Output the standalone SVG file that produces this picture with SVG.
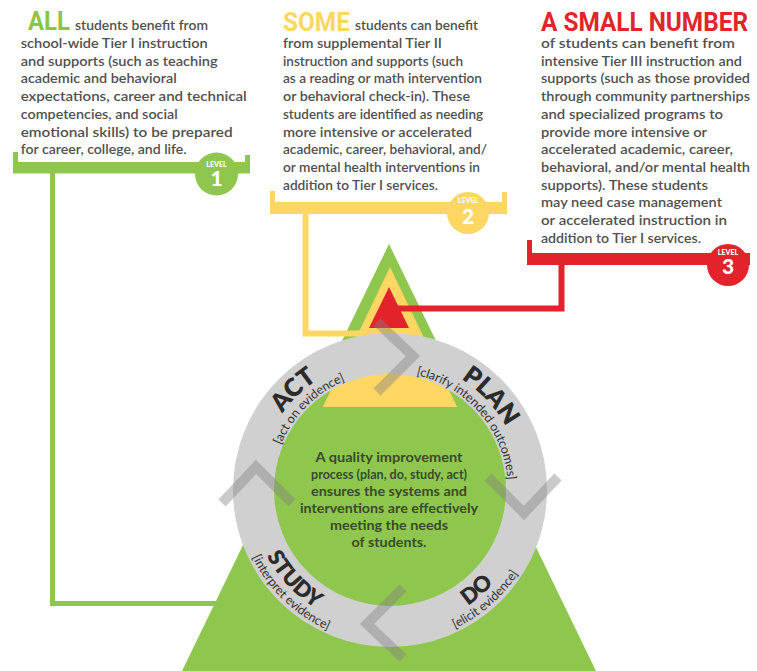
<svg xmlns="http://www.w3.org/2000/svg" width="757" height="671" viewBox="0 0 757 671">
<style>
.body{font-family:Lato,"Noto Sans",sans-serif;font-weight:600;font-size:13.5px;fill:#505050}
.head{font-family:Roboto,"Liberation Sans",sans-serif;font-weight:700;font-size:25px}
.ctr{font-family:Lato,"Noto Sans",sans-serif;font-weight:700;font-size:13.5px;fill:#3a4a2a;text-anchor:middle}
.big{font-family:Lato,"Noto Sans",sans-serif;font-weight:800;fill:#2b2b2b}
.sub{font-family:Lato,"Noto Sans",sans-serif;font-weight:400;font-size:12.5px;fill:#333}
.lvl{font-family:Lato,"Noto Sans",sans-serif;font-weight:900;fill:#fff;text-anchor:middle}
.chev{fill:none;stroke:#808080;stroke-width:10;stroke-opacity:0.42}
</style>
<defs>
<path id="pAct" d="M287.42,573.07 A132,132 0 0 1 476.61,390.38"/>
<path id="pActS" d="M299.6,565.85 A118,118 0 0 1 465.85,399.6"/>
<path id="pPlan" d="M308.73,385.98 A132,132 0 0 1 488.09,578.32"/>
<path id="pPlanS" d="M320.64,394.54 A118,118 0 0 1 474.88,571.97"/>
<path id="pDo" d="M293.4,590 A139,139 0 0 0 502.5,408.3"/>
<path id="pDoS" d="M283.71,600.05 A153,153 0 0 0 513.78,400.07"/>
<path id="pStudy" d="M286,396.3 A140,140 0 0 0 476.2,600.3"/>
<path id="pStudyS" d="M271.1,393.7 A153,153 0 0 0 490.4,605.5"/>
<polyline id="chev" points="377,322 413,356 377,392"/>
</defs>

<g id="pyramid">
<polygon points="389,244 182,671 596,671" fill="#8fc74e"/>
<circle cx="390" cy="490" r="118" fill="#8fc74e"/>
<polygon points="390,267 322.8,407 457.2,407" fill="#fdd663"/>
<polygon points="389,287 369,328 409,328" fill="#e3232b"/>
</g>

<g id="connectors" fill="none" stroke-linejoin="miter">
<polyline points="52.5,173 52.5,603.5 217,603.5" stroke="#8fc74e" stroke-width="5"/>
<polyline points="305.5,214 305.5,333.5 360,333.5" stroke="#fdd663" stroke-width="6"/>
<polyline points="561.5,265 561.5,308.5 398,308.5" stroke="#e3232b" stroke-width="6"/>
</g>

<g id="tier1">
<path d="M13,152 H18 V162 H245 V155 H250 V173.5 H13 Z" fill="#8fc74e"/>
<circle cx="216.5" cy="174" r="21.5" fill="#8fc74e"/>
<text class="lvl" x="216.5" y="166.5" font-size="7">LEVEL</text>
<text class="lvl" x="216.5" y="186" font-size="21">1</text>
<text class="head" x="28" y="30" fill="#8cc63f" textLength="42" lengthAdjust="spacingAndGlyphs" font-size="24">ALL</text>
<text class="body" x="75" y="30" textLength="133" lengthAdjust="spacingAndGlyphs">students benefit from</text>
<text class="body" x="20.7" y="48" textLength="187" lengthAdjust="spacingAndGlyphs">school-wide Tier I instruction</text>
<text class="body" x="20.7" y="65.7" textLength="197" lengthAdjust="spacingAndGlyphs">and supports (such as teaching</text>
<text class="body" x="20.7" y="83.4" textLength="156" lengthAdjust="spacingAndGlyphs">academic and behavioral</text>
<text class="body" x="20.7" y="101.1" textLength="226" lengthAdjust="spacingAndGlyphs">expectations, career and technical</text>
<text class="body" x="20.7" y="118.8" textLength="157" lengthAdjust="spacingAndGlyphs">competencies, and social</text>
<text class="body" x="20.7" y="136.5" textLength="212" lengthAdjust="spacingAndGlyphs">emotional skills) to be prepared</text>
<text class="body" x="20.7" y="154.2" textLength="166" lengthAdjust="spacingAndGlyphs">for career, college, and life.</text>
</g>

<g id="tier2">
<path d="M270,191 H275 V202 H502 V192 H507 V214 H270 Z" fill="#fdd663"/>
<circle cx="468" cy="213" r="21" fill="#fdd663"/>
<text class="lvl" x="468" y="202.5" font-size="7">LEVEL</text>
<text class="lvl" x="468" y="223.5" font-size="21">2</text>
<text class="head" x="283" y="30.5" fill="#fdd663" textLength="67" lengthAdjust="spacingAndGlyphs">SOME</text>
<text class="body" x="355" y="30.3" textLength="123" lengthAdjust="spacingAndGlyphs">students can benefit</text>
<text class="body" x="283" y="48" textLength="159" lengthAdjust="spacingAndGlyphs">from supplemental Tier II</text>
<text class="body" x="283" y="65.7" textLength="180" lengthAdjust="spacingAndGlyphs">instruction and supports (such</text>
<text class="body" x="283" y="83.4" textLength="199" lengthAdjust="spacingAndGlyphs">as a reading or math intervention</text>
<text class="body" x="283" y="101.1" textLength="187" lengthAdjust="spacingAndGlyphs">or behavioral check-in). These</text>
<text class="body" x="283" y="118.8" textLength="200" lengthAdjust="spacingAndGlyphs">students are identified as needing</text>
<text class="body" x="283" y="136.5" textLength="189" lengthAdjust="spacingAndGlyphs">more intensive or accelerated</text>
<text class="body" x="283" y="154.2" textLength="204" lengthAdjust="spacingAndGlyphs">academic, career, behavioral, and/</text>
<text class="body" x="283" y="171.9" textLength="197" lengthAdjust="spacingAndGlyphs">or mental health interventions in</text>
<text class="body" x="283" y="189.6" textLength="155" lengthAdjust="spacingAndGlyphs">addition to Tier I services.</text>
</g>

<g id="tier3">
<path d="M527,240 H532 V253 H750 V265 H527 Z" fill="#e3232b"/>
<circle cx="728" cy="265" r="21" fill="#e3232b"/>
<text class="lvl" x="728" y="255" font-size="7">LEVEL</text>
<text class="lvl" x="728" y="274" font-size="21">3</text>
<text class="head" x="541" y="30.5" fill="#e0252b" textLength="207" lengthAdjust="spacingAndGlyphs">A SMALL NUMBER</text>
<text class="body" x="541" y="48" textLength="194" lengthAdjust="spacingAndGlyphs">of students can benefit from</text>
<text class="body" x="541" y="65.7" textLength="201" lengthAdjust="spacingAndGlyphs">intensive Tier III instruction and</text>
<text class="body" x="541" y="83.4" textLength="209" lengthAdjust="spacingAndGlyphs">supports (such as those provided</text>
<text class="body" x="541" y="101.1" textLength="209" lengthAdjust="spacingAndGlyphs">through community partnerships</text>
<text class="body" x="541" y="118.8" textLength="182" lengthAdjust="spacingAndGlyphs">and specialized programs to</text>
<text class="body" x="541" y="136.5" textLength="166" lengthAdjust="spacingAndGlyphs">provide more intensive or</text>
<text class="body" x="541" y="154.2" textLength="192" lengthAdjust="spacingAndGlyphs">accelerated academic, career,</text>
<text class="body" x="541" y="171.9" textLength="209" lengthAdjust="spacingAndGlyphs">behavioral, and/or mental health</text>
<text class="body" x="541" y="189.6" textLength="167" lengthAdjust="spacingAndGlyphs">supports).  These students</text>
<text class="body" x="541" y="207.3" textLength="181" lengthAdjust="spacingAndGlyphs">may need case management</text>
<text class="body" x="541" y="225" textLength="186" lengthAdjust="spacingAndGlyphs">or accelerated instruction in</text>
<text class="body" x="541" y="242.7" textLength="160" lengthAdjust="spacingAndGlyphs">addition to Tier I services.</text>
</g>

<g id="cycle">
<circle cx="390" cy="490" r="136.5" fill="none" stroke="#d0d0d0" stroke-width="41"/>
<text class="big" font-size="25"><textPath href="#pAct" startOffset="50%" text-anchor="middle">ACT</textPath></text>
<text class="sub"><textPath href="#pActS" startOffset="50%" text-anchor="middle">[act on evidence]</textPath></text>
<text class="big" font-size="25"><textPath href="#pPlan" startOffset="50%" text-anchor="middle">PLAN</textPath></text>
<text class="sub"><textPath href="#pPlanS" startOffset="50%" text-anchor="middle">[clarify intended outcomes]</textPath></text>
<text class="big" font-size="22"><textPath href="#pDo" startOffset="50%" text-anchor="middle">DO</textPath></text>
<text class="sub"><textPath href="#pDoS" startOffset="50%" text-anchor="middle">[elicit evidence]</textPath></text>
<text class="big" font-size="22"><textPath href="#pStudy" startOffset="50%" text-anchor="middle">STUDY</textPath></text>
<text class="sub"><textPath href="#pStudyS" startOffset="50%" text-anchor="middle">[interpret evidence]</textPath></text>
</g>

<g id="center-text">
<text class="ctr" x="389" y="462" textLength="147" lengthAdjust="spacingAndGlyphs">A quality improvement</text>
<text class="ctr" x="389" y="479" textLength="156" lengthAdjust="spacingAndGlyphs">process (plan, do, study, act)</text>
<text class="ctr" x="389" y="496" textLength="156" lengthAdjust="spacingAndGlyphs">ensures the systems and</text>
<text class="ctr" x="389" y="513" textLength="178" lengthAdjust="spacingAndGlyphs">interventions are effectively</text>
<text class="ctr" x="389" y="530" textLength="118" lengthAdjust="spacingAndGlyphs">meeting the needs</text>
<text class="ctr" x="389" y="547" textLength="75" lengthAdjust="spacingAndGlyphs">of students.</text>
</g>

<g id="arrows">
<use href="#chev" class="chev"/>
<use href="#chev" class="chev" transform="rotate(90 390 490)"/>
<use href="#chev" class="chev" transform="rotate(180 390 490)"/>
<use href="#chev" class="chev" transform="rotate(270 390 490)"/>
</g>
</svg>
